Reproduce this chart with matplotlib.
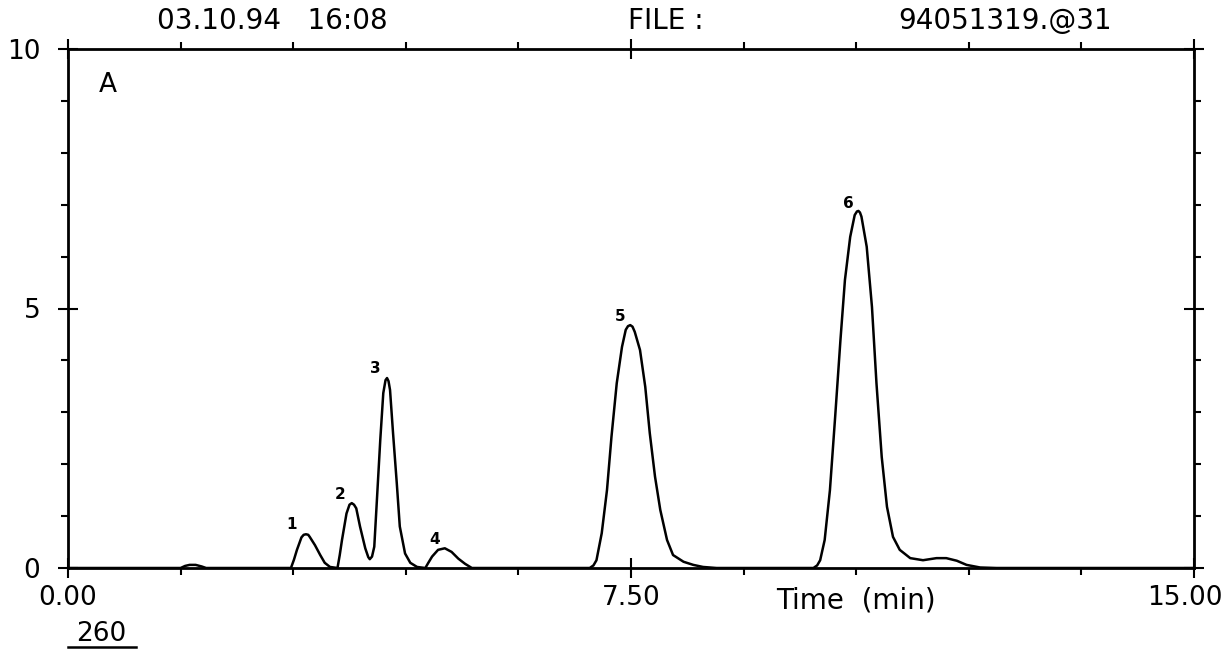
import matplotlib
matplotlib.use("Agg")
import matplotlib.pyplot as plt
import matplotlib.transforms as mtransforms
from matplotlib.ticker import MultipleLocator, FixedLocator

# trace (time in min, signal)
time_min = [0.00, 1.50, 1.56, 1.62, 1.70, 1.78, 1.84, 2.40, 2.97,
            3.01, 3.05, 3.11, 3.14, 3.17, 3.20, 3.22, 3.29, 3.36, 3.42, 3.49, 3.59,
            3.62, 3.65, 3.71, 3.75, 3.78, 3.81, 3.84, 3.89, 3.96, 4.00, 4.02, 4.05,
            4.08, 4.11, 4.16, 4.20, 4.23, 4.25, 4.27, 4.29, 4.33, 4.38,
            4.42, 4.49, 4.56, 4.65, 4.76,
            4.80, 4.85, 4.93, 5.02, 5.11, 5.20, 5.29, 5.38,
            6.95, 7.00, 7.04, 7.11, 7.18, 7.24, 7.31, 7.38, 7.43, 7.46, 7.49,
            7.52, 7.55, 7.62, 7.69, 7.75, 7.82, 7.89, 7.98, 8.06, 8.20,
            8.33, 8.46, 8.64,
            9.93, 9.98, 10.02, 10.08, 10.15, 10.22, 10.29, 10.35, 10.42, 10.48,
            10.51, 10.53, 10.55, 10.57, 10.64, 10.71, 10.77, 10.84, 10.91,
            10.99, 11.08, 11.22, 11.39, 11.57, 11.70, 11.84, 11.97, 12.15,
            12.37, 15.00]
signal = [0.00, 0.00, 0.04, 0.06, 0.06, 0.03, 0.00, 0.00, 0.00,
          0.16, 0.35, 0.59, 0.64, 0.65, 0.64, 0.60, 0.44, 0.25, 0.10, 0.02, 0.00,
          0.25, 0.54, 1.05, 1.22, 1.25, 1.22, 1.15, 0.80, 0.38, 0.21, 0.17, 0.22,
          0.41, 1.18, 2.47, 3.37, 3.62, 3.66, 3.60, 3.43, 2.60, 1.63,
          0.80, 0.28, 0.10, 0.02, 0.00,
          0.10, 0.22, 0.35, 0.38, 0.31, 0.18, 0.08, 0.00,
          0.00, 0.05, 0.15, 0.67, 1.50, 2.53, 3.56, 4.26, 4.59, 4.66, 4.68,
          4.65, 4.55, 4.20, 3.49, 2.60, 1.76, 1.12, 0.54, 0.25, 0.12,
          0.06, 0.02, 0.00,
          0.00, 0.05, 0.15, 0.54, 1.50, 2.92, 4.39, 5.55, 6.38, 6.80,
          6.87, 6.88, 6.85, 6.77, 6.19, 5.03, 3.56, 2.14, 1.18,
          0.60, 0.35, 0.19, 0.15, 0.19, 0.19, 0.14, 0.06, 0.01,
          0.00, 0.00]

peak_names = ["1", "2", "3", "4", "5", "6"]
peak_x = [2.98, 3.62, 4.09, 4.89, 7.35, 10.39]
peak_y = [0.83, 1.41, 3.85, 0.54, 4.84, 7.02]

x_labels = ["0.00", "7.50", "15.00"]

fig = plt.figure(figsize=(12.28, 6.52), dpi=100)
ax = fig.add_axes([68 / 1228, 1 - 568 / 652, (1194 - 68) / 1228, (568 - 49) / 652])

ax.plot(time_min, signal, color="black", lw=1.8)
for n, px, py in zip(peak_names, peak_x, peak_y):
    ax.text(px, py, n, ha="center", va="center", fontsize=11, fontweight="bold")

ax.set_xlim(0, 15)
ax.set_ylim(0, 10)

for s in ax.spines.values():
    s.set_linewidth(2)

ax.xaxis.set_major_locator(FixedLocator([0, 7.5, 15]))
ax.xaxis.set_minor_locator(MultipleLocator(1.5))
ax.set_xticklabels(x_labels)
ax.yaxis.set_major_locator(FixedLocator([0, 5, 10]))
ax.yaxis.set_minor_locator(MultipleLocator(1))
ax.set_yticklabels(["0", "5", "10"])

ax.tick_params(which="major", direction="inout", length=14, width=1.5,
               top=True, right=True, labelsize=19, pad=8)
ax.tick_params(which="minor", direction="out", length=5, width=1.5,
               top=True, right=True)
ax.tick_params(axis="x", which="major", pad=5)
ax.tick_params(axis="y", which="major", pad=13)

# keep the last x label inside the page
last = ax.get_xticklabels()[-1]
last.set_transform(last.get_transform() +
                   mtransforms.ScaledTranslation(-9 / 100, 0, fig.dpi_scale_trans))

ax.text(0.027, 0.93, "A", transform=ax.transAxes, ha="left", va="center", fontsize=19)
ax.text(10.49, -0.062, "Time  (min)", transform=ax.get_xaxis_transform(),
        ha="center", va="center", fontsize=20)

fig.text(272 / 1228, 1 - 21 / 652, "03.10.94   16:08", ha="center", va="center", fontsize=20)
fig.text(628 / 1228, 1 - 21 / 652, "FILE :", ha="left", va="center", fontsize=20)
fig.text(1005 / 1228, 1 - 21 / 652, "94051319.@31", ha="center", va="center", fontsize=20)
fig.text(101 / 1228, 1 - 634 / 652, "260", ha="center", va="center", fontsize=19)
fig.add_artist(plt.Line2D([68 / 1228, 136 / 1228], [1 - 647 / 652, 1 - 647 / 652],
                          color="black", lw=1.8))

fig.savefig("out.png", dpi=100)
